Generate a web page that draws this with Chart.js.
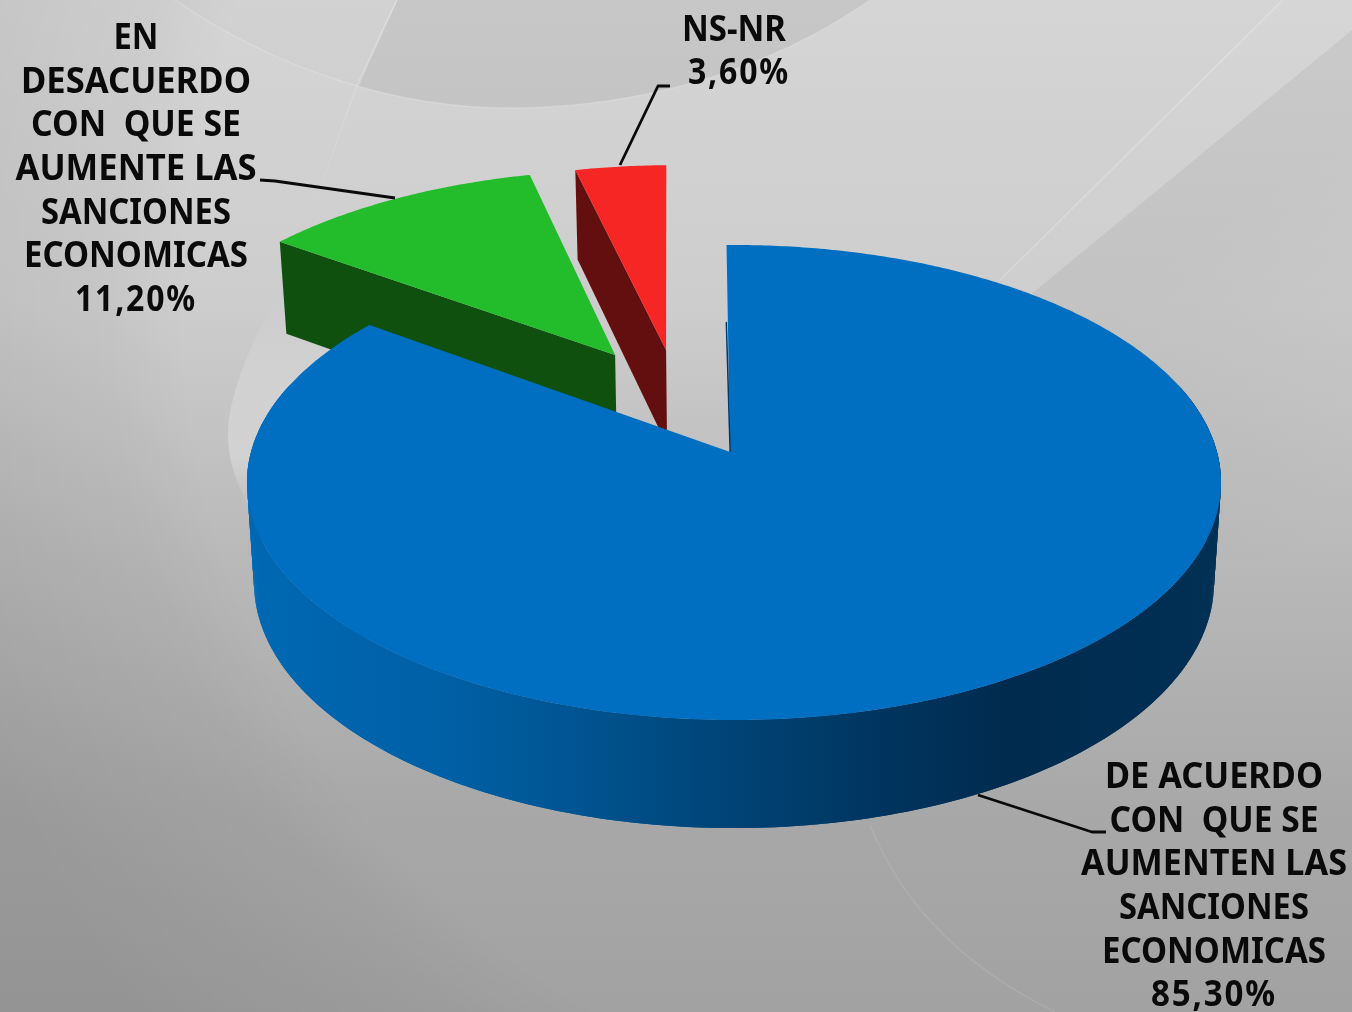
<!DOCTYPE html>
<html>
<head>
<meta charset="utf-8">
<style>html,body{margin:0;padding:0;background:#bbb;overflow:hidden}canvas{display:block}</style>
<script src="https://cdn.jsdelivr.net/npm/chart.js@4"></script>
</head>
<body>
<canvas id="c" width="1352" height="1012"></canvas>
<script>
const categories = ["DE ACUERDO CON QUE SE AUMENTEN LAS SANCIONES ECONOMICAS", "EN DESACUERDO CON QUE SE AUMENTE LAS SANCIONES ECONOMICAS", "NS-NR"];
const values = [85.3, 11.2, 3.6];
const labelBlue = ["DE ACUERDO", "CON  QUE SE", "AUMENTEN LAS", "SANCIONES", "ECONOMICAS", "85,30%"];
const labelGreen = ["EN", "DESACUERDO", "CON  QUE SE", "AUMENTE LAS", "SANCIONES", "ECONOMICAS", "11,20%"];
const labelRed = ["NS-NR", "3,60%"];

const widthsBlue = [218, 209, 266, 190, 224, 126];
const widthsGreen = [45, 230, 210, 241, 190, 224, 122];
const widthsRed = [104, 102];

const topColors = ["#006fc1", "#23bc2b", "#f62625"];
const wallColors = [null, "#0f500f", "#640f0f"];
const explode = [[0, 0], [-0.26, -0.4386], [-0.149, -0.4626]];
const apexShift = [[-0.008, 0], [0, 0], [0, 0]];
const rimRadius = [1, 0.99, 0.995];

const CX = 734, K = 0.1284;
const TOP = {a: 483, b: 233.6, cy: 452};
const BOT = {a: 476, b: 241.5, cy: 551};
function proj(u, v, L) {
  const w = 1 - K * v;
  return [CX + L.a * u / w, L.cy + L.b * v / w];
}
function rimPts(i, s, e, L) {
  const pts = [], n = Math.max(8, Math.ceil((e - s) / 0.01));
  for (let j = 0; j <= n; j++) {
    const t = s + (e - s) * j / n;
    pts.push(proj(explode[i][0] + rimRadius[i] * Math.cos(t), explode[i][1] + rimRadius[i] * Math.sin(t), L));
  }
  return pts;
}
function trace(ctx, pts) {
  pts.forEach((p, j) => j ? ctx.lineTo(p[0], p[1]) : ctx.moveTo(p[0], p[1]));
}
function bowlPath(ctx) {
  ctx.beginPath(); ctx.moveTo(175, 0);
  ctx.bezierCurveTo(280, 72, 400, 108, 510, 108); ctx.bezierCurveTo(640, 108, 770, 70, 870, 0);
}

function paintBackground(ctx) {
  const W = 1352, H = 1012;
  let g = ctx.createLinearGradient(0, 0, 0, H);
  g.addColorStop(0, "#d5d5d5"); g.addColorStop(0.3, "#cdcdcd"); g.addColorStop(0.55, "#b9b9b9");
  g.addColorStop(0.8, "#a8a8a8"); g.addColorStop(1, "#a2a2a2");
  ctx.fillStyle = g; ctx.fillRect(0, 0, W, H);
  // soft darkening towards the far left and bottom-left
  g = ctx.createRadialGradient(1000, 300, 815, 1000, 300, 1120);
  g.addColorStop(0, "rgba(0,0,0,0)"); g.addColorStop(0.25, "rgba(0,0,0,0.035)"); g.addColorStop(1, "rgba(0,0,0,0.085)");
  ctx.fillStyle = g; ctx.fillRect(0, 0, W, H);
  // top bowl: faint left of the streak, stronger right of it
  ctx.save(); bowlPath(ctx); ctx.closePath(); ctx.fillStyle = "rgba(0,0,0,0.012)"; ctx.fill(); ctx.clip();
  ctx.fillStyle = "rgba(0,0,0,0.05)"; ctx.beginPath(); ctx.moveTo(397, 0); ctx.lineTo(355, 95); ctx.lineTo(355, 130); ctx.lineTo(900, 130); ctx.lineTo(900, 0); ctx.closePath(); ctx.fill();
  ctx.restore();
  ctx.strokeStyle = "rgba(255,255,255,0.16)"; ctx.lineWidth = 1.5; bowlPath(ctx); ctx.stroke();
  g = ctx.createLinearGradient(0, 0, 0, 230);
  g.addColorStop(0, "rgba(255,255,255,0.3)"); g.addColorStop(0.4, "rgba(255,255,255,0.15)"); g.addColorStop(1, "rgba(255,255,255,0)");
  ctx.strokeStyle = g; ctx.beginPath(); ctx.moveTo(397, 0); ctx.lineTo(357, 85); ctx.lineTo(305, 230); ctx.stroke();
  // right diagonal region + band
  g = ctx.createLinearGradient(1120, 300, 1300, 560);
  g.addColorStop(0, "rgba(0,0,0,0.05)"); g.addColorStop(1, "rgba(0,0,0,0)");
  ctx.fillStyle = g; ctx.beginPath(); ctx.moveTo(1352, 30); ctx.lineTo(1030, 295); ctx.lineTo(1200, 560); ctx.lineTo(1352, 560); ctx.closePath(); ctx.fill();
  ctx.fillStyle = "rgba(255,255,255,0.04)"; ctx.beginPath(); ctx.moveTo(1283, 0); ctx.lineTo(1000, 280); ctx.lineTo(1030, 295); ctx.lineTo(1352, 30); ctx.lineTo(1352, 0); ctx.closePath(); ctx.fill();
  ctx.strokeStyle = "rgba(255,255,255,0.22)"; ctx.beginPath(); ctx.moveTo(1283, 0); ctx.lineTo(1000, 280); ctx.stroke();
  // left crescent hugging the pie
  g = ctx.createLinearGradient(0, 300, 0, 512);
  g.addColorStop(0, "rgba(255,255,255,0)"); g.addColorStop(0.4, "rgba(255,255,255,0.2)"); g.addColorStop(0.75, "rgba(255,255,255,0.28)"); g.addColorStop(1, "rgba(255,255,255,0)");
  ctx.fillStyle = g; ctx.beginPath(); ctx.moveTo(275, 300);
  ctx.bezierCurveTo(250, 345, 226, 400, 228, 440); ctx.bezierCurveTo(230, 470, 240, 490, 252, 512);
  ctx.lineTo(320, 500); ctx.lineTo(340, 330); ctx.lineTo(340, 300); ctx.closePath(); ctx.fill();
  // lower-right thin curve
  ctx.strokeStyle = "rgba(255,255,255,0.1)"; ctx.lineWidth = 1.5;
  ctx.beginPath(); ctx.moveTo(870, 825); ctx.bezierCurveTo(900, 900, 960, 965, 1055, 1012); ctx.stroke();
}

function blueWallGradient(ctx) {
  const g = ctx.createLinearGradient(250, 0, 1220, 0);
  [[0, "#0068b3"], [0.2, "#0060a6"], [0.35, "#00538f"], [0.5, "#004375"], [0.65, "#00355f"], [0.78, "#002b4f"], [1, "#003054"]]
    .forEach(s => g.addColorStop(s[0], s[1]));
  return g;
}

const pie3d = {
  id: "pie3d",
  beforeDraw(chart) { paintBackground(chart.ctx); },
  beforeDatasetDraw(chart, args) {
    const ctx = chart.ctx, arcs = chart.getDatasetMeta(args.index).data;
    for (let i = arcs.length - 1; i >= 0; i--) {
      const s = arcs[i].startAngle, e = arcs[i].endAngle;
      const apex = [explode[i][0] + apexShift[i][0], explode[i][1] + apexShift[i][1]];
      const ap = proj(apex[0], apex[1], TOP);
      if (i === 0) {
        // outer wall: only the part of the rim that faces the viewer
        const a0 = Math.max(s, -0.3), a1 = Math.min(e, Math.PI + 0.3);
        const t = rimPts(i, a0, a1, TOP), b = rimPts(i, a0, a1, BOT);
        ctx.fillStyle = blueWallGradient(ctx);
        for (let j = 0; j + 2 < t.length; j++) {
          ctx.beginPath(); trace(ctx, [t[j], t[j + 2], b[j + 2], b[j]]); ctx.closePath(); ctx.fill();
        }
      } else {
        // visible cut face of the pulled-out slice
        const b = proj(apex[0], apex[1], BOT);
        const p = rimPts(i, s, s, TOP)[0], q = rimPts(i, s, s, BOT)[0];
        ctx.fillStyle = wallColors[i];
        ctx.beginPath(); trace(ctx, [p, ap, b, q]); ctx.closePath(); ctx.fill();
      }
      ctx.fillStyle = topColors[i];
      ctx.beginPath(); trace(ctx, rimPts(i, s, e, TOP)); ctx.lineTo(ap[0], ap[1]); ctx.closePath(); ctx.fill();
      if (i === 0) {
        // thin shaded sliver along the start edge of the big slice
        ctx.strokeStyle = "#003a6a"; ctx.lineWidth = 1.5;
        const m = proj(apex[0] + 0.6 * Math.cos(s), apex[1] + 0.6 * Math.sin(s), TOP);
        ctx.beginPath(); ctx.moveTo(m[0] + 0.6, m[1]); ctx.lineTo(ap[0], ap[1]); ctx.stroke();
      }
    }
    return false;
  },
  afterDraw(chart) {
    const ctx = chart.ctx;
    ctx.save();
    ctx.strokeStyle = "#0a0a0a"; ctx.lineWidth = 2.8; ctx.lineJoin = "round";
    [[[260, 180], [275, 181], [395, 198]], [[670, 86], [658, 86], [620, 165]], [[978, 795], [1092, 832], [1106, 832]]]
      .forEach(l => { ctx.beginPath(); trace(ctx, l); ctx.stroke(); });
    ctx.fillStyle = "#0a0a0a";
    ctx.font = "700 36px 'Noto Sans'";
    ctx.textAlign = "center"; ctx.textBaseline = "middle";
    const block = (lines, widths, x, y0) => lines.forEach((t, i) => {
      ctx.letterSpacing = /[0-9]/.test(t) ? "2px" : "0px";
      ctx.fillText(t, x, y0 + i * 43.6, widths[i]);
    });
    block(labelGreen, widthsGreen, 136, 39);
    block(labelBlue, widthsBlue, 1214, 778);
    block(labelRed.slice(0, 1), widthsRed.slice(0, 1), 734, 31);
    block(labelRed.slice(1), widthsRed.slice(1), 739, 74);
    ctx.restore();
  }
};

new Chart(document.getElementById("c"), {
  type: "pie",
  data: {labels: categories, datasets: [{data: values, backgroundColor: topColors, borderWidth: 0}]},
  options: {
    responsive: false, animation: false, rotation: -1,
    plugins: {legend: {display: false}, tooltip: {enabled: false}}
  },
  plugins: [pie3d]
});
</script>
</body>
</html>
